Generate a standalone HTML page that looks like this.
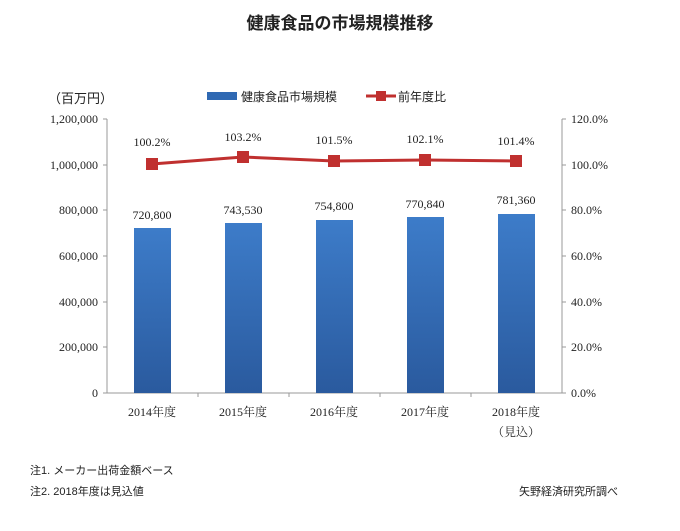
<!DOCTYPE html>
<html><head><meta charset="utf-8"><style>
body{margin:0;background:#fff;width:680px;height:526px;overflow:hidden}
svg text{font-family:"Liberation Serif","Noto Serif CJK SC",serif;fill:#222}
.j{font-family:"Liberation Sans","Noto Sans CJK JP",sans-serif !important}
</style></head><body>
<svg width="680" height="526" viewBox="0 0 680 526">
<defs><linearGradient id="g" x1="0" y1="0" x2="0" y2="1"><stop offset="0" stop-color="#3d7cc9"/><stop offset="1" stop-color="#2a5a9e"/></linearGradient></defs>
<text class="j" x="340" y="29" text-anchor="middle" font-size="17" font-weight="bold" fill="#333">健康食品の市場規模推移</text>
<text class="j" x="48" y="103" font-size="13">（百万円）</text>
<rect x="207" y="92" width="30" height="8" fill="#2f69b3"/>
<text class="j" x="241" y="101" font-size="12">健康食品市場規模</text>
<line x1="366" y1="96" x2="396" y2="96" stroke="#c0302f" stroke-width="3"/>
<rect x="376" y="91" width="10" height="10" fill="#c0302f"/>
<text class="j" x="398" y="101" font-size="12">前年度比</text>
<g stroke="#999" stroke-width="1">
<line x1="107" y1="119" x2="107" y2="393"/><line x1="562" y1="119" x2="562" y2="393"/>
<line x1="103" y1="393" x2="566" y2="393"/>
<line x1="103" y1="119" x2="107" y2="119"/><line x1="103" y1="165" x2="107" y2="165"/><line x1="103" y1="210" x2="107" y2="210"/><line x1="103" y1="256" x2="107" y2="256"/><line x1="103" y1="302" x2="107" y2="302"/><line x1="103" y1="347" x2="107" y2="347"/>
<line x1="562" y1="119" x2="566" y2="119"/><line x1="562" y1="165" x2="566" y2="165"/><line x1="562" y1="210" x2="566" y2="210"/><line x1="562" y1="256" x2="566" y2="256"/><line x1="562" y1="302" x2="566" y2="302"/><line x1="562" y1="347" x2="566" y2="347"/>
<line x1="198" y1="393" x2="198" y2="397"/><line x1="289" y1="393" x2="289" y2="397"/><line x1="380" y1="393" x2="380" y2="397"/><line x1="471" y1="393" x2="471" y2="397"/>
</g>
<g font-size="12" text-anchor="end">
<text x="98" y="123">1,200,000</text><text x="98" y="169">1,000,000</text><text x="98" y="214">800,000</text><text x="98" y="260">600,000</text><text x="98" y="306">400,000</text><text x="98" y="351">200,000</text><text x="98" y="397">0</text>
</g>
<g font-size="12">
<text x="571" y="123">120.0%</text><text x="571" y="169">100.0%</text><text x="571" y="214">80.0%</text><text x="571" y="260">60.0%</text><text x="571" y="306">40.0%</text><text x="571" y="351">20.0%</text><text x="571" y="397">0.0%</text>
</g>
<g fill="url(#g)">
<rect x="134" y="228" width="37" height="165"/><rect x="225" y="223" width="37" height="170"/><rect x="316" y="220" width="37" height="173"/><rect x="407" y="217" width="37" height="176"/><rect x="498" y="214" width="37" height="179"/>
</g>
<g font-size="12" text-anchor="middle">
<text x="152" y="219">720,800</text><text x="243" y="214">743,530</text><text x="334" y="210">754,800</text><text x="425" y="208">770,840</text><text x="516" y="204">781,360</text>
<text x="152" y="146">100.2%</text><text x="243" y="141">103.2%</text><text x="334" y="144">101.5%</text><text x="425" y="143">102.1%</text><text x="516" y="145">101.4%</text>
<text x="152" y="416">2014年度</text><text x="243" y="416">2015年度</text><text x="334" y="416">2016年度</text><text x="425" y="416">2017年度</text><text x="516" y="416">2018年度</text><text x="516" y="436">（見込）</text>
</g>
<polyline points="152,164 243,157 334,161 425,160 516,161" fill="none" stroke="#c0302f" stroke-width="3"/>
<g fill="#c0302f">
<rect x="146" y="158" width="12" height="12"/><rect x="237" y="151" width="12" height="12"/><rect x="328" y="155" width="12" height="12"/><rect x="419" y="154" width="12" height="12"/><rect x="510" y="155" width="12" height="12"/>
</g>
<text class="j" x="30" y="474" font-size="11">注1. メーカー出荷金額ベース</text>
<text class="j" x="30" y="495" font-size="11">注2. 2018年度は見込値</text>
<text class="j" x="519" y="495" font-size="11">矢野経済研究所調べ</text>
</svg>
</body></html>
